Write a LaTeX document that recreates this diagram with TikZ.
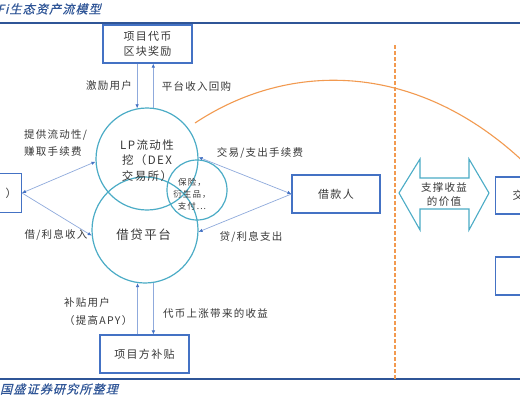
\documentclass[tikz,border=0pt]{standalone}
\usepackage{fontspec}
\usetikzlibrary{arrows.meta}
\newfontfamily\cjk[LetterSpace=12]{Noto Sans CJK SC}
\newfontfamily\cjkhead[LetterSpace=10,FakeSlant=0.25,FakeBold=0.6]{Noto Sans CJK SC}
\definecolor{boxblue}{HTML}{4472C4}
\definecolor{circ}{HTML}{4BACC6}
\definecolor{lineblue}{HTML}{8FAADC}
\definecolor{tipblue}{HTML}{4472C4}
\definecolor{txtgray}{HTML}{383838}
\definecolor{headblue}{HTML}{2F5597}
\definecolor{orng}{HTML}{F29A50}
\begin{document}
\begin{tikzpicture}[x=1pt,y=-1pt,
 boxnode/.style={draw=boxblue,line width=1.1pt,minimum width=89pt,minimum height=38pt,inner sep=1pt,align=center,text=txtgray,font=\cjk\fontsize{11}{15}\selectfont},
 ring/.style={circle,draw=circ,line width=1.2pt,inner sep=0pt},
 lbl/.style={text=txtgray,font=\cjk\fontsize{10.5}{17}\selectfont,inner sep=0pt,align=center},
 arr/.style={draw=lineblue,line width=0.7pt,-{Latex[length=4pt,width=3.5pt,color=tipblue]}},
 darr/.style={draw=lineblue,line width=0.7pt,{Latex[length=4pt,width=3.5pt,color=tipblue]}-{Latex[length=4pt,width=3.5pt,color=tipblue]}},
 head/.style={text=headblue,font=\cjkhead\fontsize{12}{14}\selectfont,inner sep=0pt,anchor=west}
]
\useasboundingbox (0,0) rectangle (520,400);
\clip (0,0) rectangle (520,400);
\fill[white] (0,0) rectangle (520,400);
% header / footer
\node[head] (title) at (-3,9) {Fi生态资产流模型};
\draw[headblue,line width=1.5pt] (0,23) -- (520,23);
\draw[headblue,line width=1.5pt] (0,379) -- (520,379);
\node[head] (footer) at (0,389) {国盛证券研究所整理};
% dashed divider and orange curve
\draw[orng,line width=1.1pt,dash pattern=on 4pt off 2pt] (395,45) -- (395,379);
\coordinate (cstart) at (195,123);
\coordinate (cend) at (530,168);
\draw[orng,line width=1.1pt] (cstart) .. controls (290,60) and (420,60) .. (cend);
% boxes
\node[boxnode] (topbox) at (147.5,44) {项目代币\\区块奖励};
\node[boxnode,minimum width=82pt,minimum height=39pt,anchor=east] (user) at (22,193) {};
\node[lbl,font=\cjk\fontsize{11}{13}\selectfont] (usertext) at (11,193) {）};
\node[boxnode,minimum width=88pt] (borrow) at (336,194) {借款人};
\node[boxnode] (subsidy) at (144.5,354) {项目方补贴};
\node[boxnode,minimum width=70pt,minimum height=37pt,anchor=west] (rbox1) at (495,195.5) {};
\node[lbl,font=\cjk\fontsize{11}{13}\selectfont] (rtext) at (518,195) {交};
\node[boxnode,minimum width=70pt,minimum height=38pt,anchor=west] (rbox2) at (495,276) {};
% circles
\node[ring,minimum size=102pt] (lp) at (147,159) {};
\node[ring,minimum size=106pt] (lend) at (145,230) {};
\node[ring,minimum size=60pt] (ins) at (197,190) {};
\node[lbl,font=\cjk\fontsize{11.5}{15.5}\selectfont] (lptext) at (147,160.5) {LP流动性\\挖（DEX\\交易所）};
\node[lbl,font=\cjk\fontsize{12.5}{15}\selectfont] (lendtext) at (143.5,235) {借贷平台};
\node[lbl,font=\cjk\fontsize{8.5}{12}\selectfont] (instext) at (192,194) {保险，\\衍生品，\\支付...};
% double arrow
\draw[draw=circ,line width=1.1pt,fill=white] (399,193) -- (420,159) -- (420,178) -- (469,178) -- (469,159) -- (489,193) -- (469,230) -- (469,209) -- (420,209) -- (420,230) -- cycle;
\node[lbl,font=\cjk\fontsize{10.5}{14}\selectfont] (support) at (444,195) {支撑收益\\的价值};
% connectors
\draw[arr] (lp.101 |- topbox.south) -- (lp.101);
\draw[arr] (lp.83) -- (lp.83 |- topbox.south);
\draw[darr] (lp.183) -- (user.east);
\draw[arr] (user.east) -- (lend.186);
\draw[darr] (lp.2) -- (borrow.west);
\draw[arr] (borrow.west) -- (lend.-2);
\draw[arr] (lend.-98 |- subsidy.north) -- (lend.-98);
\draw[arr] (lend.-81) -- (lend.-81 |- subsidy.north);
% labels
\node[lbl] (l1) at (109,86) {激励用户};
\node[lbl] (l2) at (196.5,86) {平台收入回购};
\node[lbl,anchor=west,align=left] (l3) at (24,143.5) {提供流动性/\\赚取手续费};
\node[lbl] (l4) at (56,235) {借/利息收入};
\node[lbl] (l5) at (260,153) {交易/支出手续费};
\node[lbl] (l6) at (251,237) {贷/利息支出};
\node[lbl,anchor=west,align=left,font=\cjk\fontsize{10.5}{18}\selectfont] (l7) at (64,312) {补贴用户\\（提高APY）};
\node[lbl] (l8) at (215.5,313) {代币上涨带来的收益};
\end{tikzpicture}
\end{document}
